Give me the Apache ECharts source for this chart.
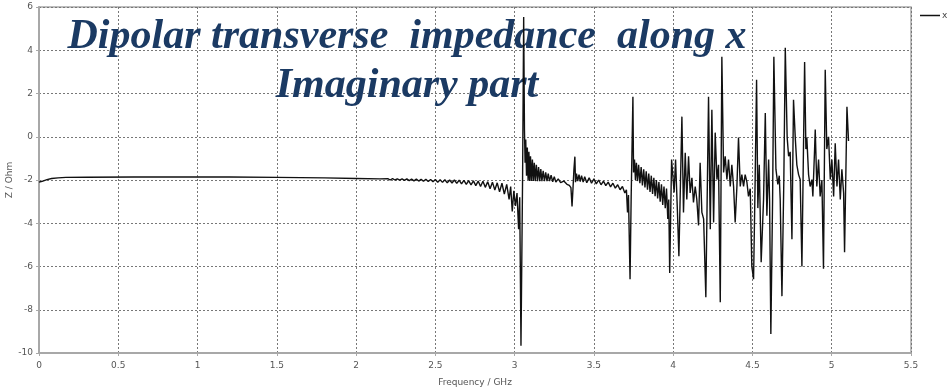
<!DOCTYPE html>
<html><head><meta charset="utf-8">
<script src="https://cdn.jsdelivr.net/npm/echarts@6/dist/echarts.min.js"></script>
<style>html,body{margin:0;padding:0;background:#fff}#c{width:947px;height:389px}</style>
</head><body><div id="c"></div>
<script>
const titleLines = ["Dipolar transverse  impedance  along x", "Imaginary part"];
const xAxisName = "Frequency / GHz";
const yAxisName = "Z / Ohm";
const seriesName = "x";
const xTicks = {min: 0, max: 5.5, step: 0.5};
const yTicks = {min: -10, max: 6, step: 2};

const freq = [
0.000,0.020,0.050,0.080,0.120,0.170,0.300,0.600,1.000,1.200,1.500,1.800,2.000,2.150,
2.200,2.215,2.230,2.245,2.260,2.275,2.290,2.305,2.320,2.335,2.350,2.365,2.380,2.395,2.410,2.425,2.440,2.455,2.470,2.485,
2.500,2.515,2.530,2.545,2.560,2.575,2.590,2.605,2.620,2.635,2.650,2.665,2.680,2.695,2.710,2.725,2.740,2.755,2.770,2.785,
2.800,2.815,2.830,2.845,2.860,2.875,2.890,2.905,2.920,2.935,2.950,2.965,2.975,2.985,2.995,3.005,3.015,3.025,3.032,3.040,
3.050,3.057,3.062,3.066,3.070,3.075,3.080,3.085,3.090,3.095,3.100,3.106,3.112,3.118,3.124,3.130,3.137,3.144,3.151,3.158,
3.165,3.172,3.180,3.188,3.196,3.204,3.212,3.220,3.230,3.240,3.250,3.260,3.275,3.290,3.310,3.330,3.345,3.355,3.362,3.368,
3.374,3.380,3.384,3.390,3.398,3.406,3.414,3.422,3.432,3.442,3.455,3.470,3.485,3.500,3.515,3.530,3.545,3.560,3.575,3.590,
3.605,3.620,3.635,3.650,3.665,3.680,3.695,3.705,3.712,3.718,3.728,3.735,3.746,3.750,3.756,3.762,3.768,3.775,3.782,3.790,
3.798,3.806,3.814,3.822,3.830,3.838,3.846,3.854,3.862,3.870,3.878,3.886,3.894,3.902,3.910,3.918,3.926,3.934,3.942,3.950,
3.958,3.966,3.972,3.978,3.990,4.006,4.015,4.027,4.036,4.055,4.065,4.076,4.086,4.097,4.107,4.118,4.128,4.139,4.149,4.160,
4.170,4.181,4.192,4.206,4.223,4.234,4.244,4.255,4.265,4.276,4.286,4.297,4.307,4.318,4.328,4.339,4.349,4.360,4.370,4.381,
4.391,4.402,4.412,4.423,4.433,4.444,4.454,4.465,4.475,4.486,4.496,4.507,4.517,4.526,4.534,4.543,4.555,4.570,4.581,4.591,
4.602,4.608,4.616,4.627,4.635,4.648,4.660,4.669,4.675,4.686,4.698,4.707,4.719,4.728,4.738,4.749,4.759,4.770,4.780,4.791,
4.801,4.812,4.829,4.837,4.843,4.854,4.864,4.875,4.881,4.892,4.896,4.906,4.917,4.927,4.938,4.948,4.959,4.969,4.980,4.991,
5.001,5.012,5.022,5.033,5.043,5.054,5.064,5.075,5.081,5.096,5.106
];
const zImag = [
-2.10,-2.06,-1.98,-1.93,-1.90,-1.88,-1.87,-1.86,-1.86,-1.86,-1.88,-1.90,-1.93,-1.95,
-1.94,-2.00,-1.94,-2.00,-1.95,-2.01,-1.95,-2.02,-1.95,-2.03,-1.96,-2.04,-1.96,-2.05,-1.97,-2.06,-1.97,-2.07,-1.98,-2.08,
-1.98,-2.10,-1.99,-2.11,-1.99,-2.13,-2.00,-2.14,-2.00,-2.16,-2.01,-2.18,-2.02,-2.20,-2.03,-2.23,-2.04,-2.26,-2.05,-2.30,
-2.06,-2.34,-2.08,-2.40,-2.10,-2.46,-2.13,-2.55,-2.15,-2.65,-2.20,-2.90,-2.30,-3.45,-2.50,-3.20,-2.60,-4.28,-2.80,-9.67,
-2.00,5.54,0.30,-1.20,-0.13,-1.80,-0.50,-2.00,-0.70,-2.05,-0.90,-2.05,-1.05,-2.05,-1.20,-2.05,-1.30,-2.05,-1.40,-2.05,
-1.50,-2.05,-1.58,-2.05,-1.65,-2.05,-1.70,-2.05,-1.78,-2.08,-1.85,-2.10,-1.95,-2.12,-2.05,-2.20,-2.25,-2.35,-3.22,-2.40,
-1.50,-0.92,-2.10,-1.70,-2.05,-1.75,-2.08,-1.80,-2.10,-1.85,-2.13,-1.90,-2.15,-1.95,-2.18,-2.00,-2.22,-2.05,-2.26,-2.10,
-2.32,-2.15,-2.38,-2.22,-2.45,-2.30,-2.60,-2.45,-3.50,-2.70,-6.59,-2.80,1.85,-1.65,-1.05,-2.00,-1.20,-2.05,-1.30,-2.15,
-1.40,-2.25,-1.50,-2.35,-1.60,-2.45,-1.70,-2.55,-1.80,-2.65,-1.90,-2.75,-2.00,-2.85,-2.10,-3.00,-2.20,-3.15,-2.30,-3.30,
-2.40,-3.80,-2.90,-6.30,-1.05,-2.58,-1.05,-3.50,-5.52,0.93,-3.50,-0.74,-2.90,-0.90,-2.60,-1.90,-3.04,-2.30,-2.90,-4.10,
-1.20,-3.50,-3.80,-7.42,1.85,-4.28,1.25,-3.96,0.19,-1.98,-1.30,-7.65,3.70,-1.65,-0.90,-1.98,-1.05,-2.30,-1.30,-2.30,
-3.96,-2.30,-0.04,-2.30,-1.75,-2.30,-1.75,-2.10,-2.76,-2.40,-6.00,-6.59,-2.00,2.63,-3.30,-1.30,-5.80,-2.90,1.10,-3.65,
-1.05,-2.90,-9.12,-2.90,3.70,-1.50,-2.20,-1.80,-2.90,-7.37,-1.98,4.11,-0.04,-0.90,-0.70,-4.74,1.71,-0.04,-1.30,-1.75,
-1.98,-6.00,3.46,-0.57,-0.04,-1.75,-2.30,-1.98,-2.76,-0.57,0.33,-2.30,-1.05,-2.76,-2.00,-6.10,3.10,-0.57,0.00,-1.98,
-1.05,-2.76,-0.30,-2.30,-1.05,-2.90,-1.50,-2.60,-5.34,1.39,-0.20
];

const points = freq.map((f, i) => [f, zImag[i]]);
const chart = echarts.init(document.getElementById('c'), null, {renderer: 'canvas'});
const tickFont = {fontFamily: 'DejaVu Sans', fontSize: 9, color: '#555'};
chart.setOption({
  animation: false,
  backgroundColor: '#fff',
  title: {
    text: titleLines.join('\n'),
    left: 402, top: 8, textAlign: 'center', z: 1,
    textStyle: {fontFamily: 'Liberation Serif', fontStyle: 'italic', fontWeight: 'bold', fontSize: 42, lineHeight: 49, color: '#1b3a63'}
  },
  legend: {
    left: 920, top: 11, padding: 0, icon: 'rect', itemWidth: 20, itemHeight: 1.5, itemGap: 2,
    textStyle: {fontFamily: 'DejaVu Sans', fontSize: 9, color: '#444', padding: [0,0,0,-3]},
    data: [seriesName]
  },
  grid: {left: 39, right: 36, top: 7, bottom: 36, containLabel: false, outerBoundsMode: 'none', show: true, borderColor: '#a8a8a8', borderWidth: 1.5},
  xAxis: {
    type: 'value', min: xTicks.min, max: xTicks.max, interval: xTicks.step,
    name: xAxisName, nameLocation: 'middle', nameGap: 25, nameMoveOverlap: false,
    nameTextStyle: {fontFamily: 'DejaVu Sans', fontSize: 9, color: '#555'},
    axisLine: {show: true, onZero: false, lineStyle: {color: '#a8a8a8', width: 2}},
    axisTick: {show: true, length: 3, lineStyle: {color: '#a8a8a8'}},
    axisLabel: Object.assign({margin: 8}, tickFont),
    splitLine: {show: true, lineStyle: {color: '#777', width: 1, type: [2, 2]}}
  },
  yAxis: {
    type: 'value', min: yTicks.min, max: yTicks.max, interval: yTicks.step,
    name: yAxisName, nameLocation: 'middle', nameGap: 25, nameRotate: 90, nameMoveOverlap: false,
    nameTextStyle: {fontFamily: 'DejaVu Sans', fontSize: 9, color: '#555'},
    axisLine: {show: true, onZero: false, lineStyle: {color: '#a8a8a8', width: 2}},
    axisTick: {show: true, length: 3, lineStyle: {color: '#a8a8a8'}},
    axisLabel: Object.assign({margin: 6}, tickFont),
    splitLine: {show: true, lineStyle: {color: '#777', width: 1, type: [2, 2]}}
  },
  series: [{
    name: seriesName, type: 'line', data: points, showSymbol: false, symbol: 'none',
    z: 3, lineStyle: {color: '#111', width: 1.4}, itemStyle: {color: '#111'}
  }]
});
</script></body></html>
